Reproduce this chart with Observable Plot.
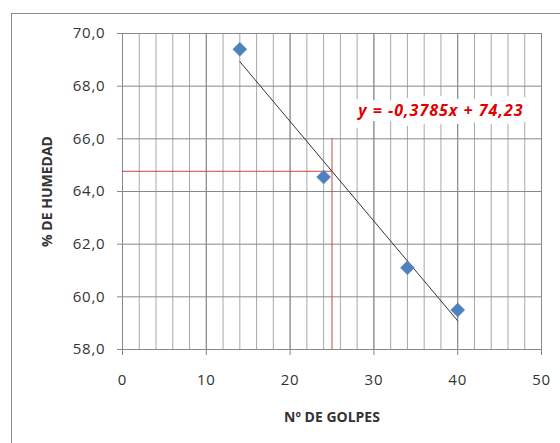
<!DOCTYPE html>
<html>
<head>
<meta charset="utf-8">
<script src="https://cdn.jsdelivr.net/npm/d3@7"></script>
<script src="https://cdn.jsdelivr.net/npm/@observablehq/plot@0.6"></script>
<style>
  html, body { margin: 0; padding: 0; background: #fff; overflow: hidden; }
  #wrap { position: relative; width: 560px; height: 443px; }
  #border { position: absolute; left: 11px; top: 13px; width: 700px; height: 600px;
            border: 1px solid #8c8c8c; pointer-events: none; z-index: 2; }
  g[aria-label="x-axis tick label"] text, g[aria-label="y-axis tick label"] text { letter-spacing: 0.8px; }
  g.ecuacion text { letter-spacing: 1px; }
</style>
</head>
<body>
<div id="wrap"><div id="border"></div></div>
<script>
// ---- data ----
const golpes = [14, 24, 34, 40];
const humedad = [69.4, 64.55, 61.1, 59.5];
const pendiente = -0.3785;
const intercepto = 74.23;
const tendenciaX = [14, 40];
const golpesLectura = 25;
const guiaSuperior = 66;
const xTicks = [0, 10, 20, 30, 40, 50];
const xMinor = [0, 2, 4, 6, 8, 10, 12, 14, 16, 18, 20, 22, 24, 26, 28, 30, 32, 34, 36, 38, 40, 42, 44, 46, 48, 50];
const yTicks = [58, 60, 62, 64, 66, 68, 70];
const tituloX = "Nº DE GOLPES";
const tituloY = "% DE HUMEDAD";

const coma = (v, n) => v.toFixed(n).replace(".", ",");
const puntos = golpes.map((g, i) => ({g, h: humedad[i]}));
const tendencia = tendenciaX.map(g => ({g, h: pendiente * g + intercepto}));
const hLectura = pendiente * golpesLectura + intercepto;
const xMin = xTicks[0], yMin = yTicks[0];
const ecuacion = `y = ${coma(pendiente, 4)}x + ${coma(intercepto, 2)}`;

const chart = Plot.plot({
  width: 560, height: 443,
  marginLeft: 122, marginRight: 19, marginTop: 33, marginBottom: 94,
  style: {fontFamily: "'Open Sans', sans-serif", fontSize: "15px", color: "#333", background: "transparent"},
  x: {domain: [0, 50]},
  y: {domain: [58, 70]},
  marks: [
    Plot.gridX(xMinor, {stroke: "#a8a8a8", strokeOpacity: 1}),
    Plot.gridX(xTicks, {stroke: "#888", strokeOpacity: 1}),
    Plot.gridY(yTicks, {stroke: "#888", strokeOpacity: 1}),
    Plot.ruleY([hLectura], {x1: xMin, x2: golpesLectura, stroke: "#cc4444", strokeWidth: 1}),
    Plot.ruleX([golpesLectura], {y1: yMin, y2: guiaSuperior, stroke: "#cc4444", strokeWidth: 1}),
    Plot.line(tendencia, {x: "g", y: "h", stroke: "#333", strokeWidth: 1}),
    Plot.dot(puntos, {x: "g", y: "h", symbol: "diamond2", r: 6.3, fill: "#4f81bd", stroke: "#4f81bd", strokeWidth: 0.5}),
    Plot.text([ecuacion], {x: 38, y: 67.08, text: d => d, fill: "#e00000", stroke: "white", strokeWidth: 16,
      fontWeight: "bold", fontStyle: "italic", fontSize: 16, className: "ecuacion"}),
    Plot.axisX(xTicks, {tickSize: 6, tickPadding: 19, stroke: "#888", tickFormat: d => String(d), label: null, fill: "#333"}),
    Plot.axisY(yTicks, {tickSize: 5, tickPadding: 12, stroke: "#888", tickFormat: d => coma(d, 1), label: null, fill: "#333"}),
    Plot.text([tituloX], {frameAnchor: "bottom", dy: 68, lineAnchor: "middle", textAnchor: "middle", text: d => d, fontWeight: "bold", fontSize: 14, fill: "#333"}),
    Plot.text([tituloY], {frameAnchor: "left", dx: -75, rotate: -90, textAnchor: "middle", lineAnchor: "middle", text: d => d, fontWeight: "bold", fontSize: 14, fill: "#333"})
  ]
});
document.getElementById("wrap").appendChild(chart);
</script>
</body>
</html>
